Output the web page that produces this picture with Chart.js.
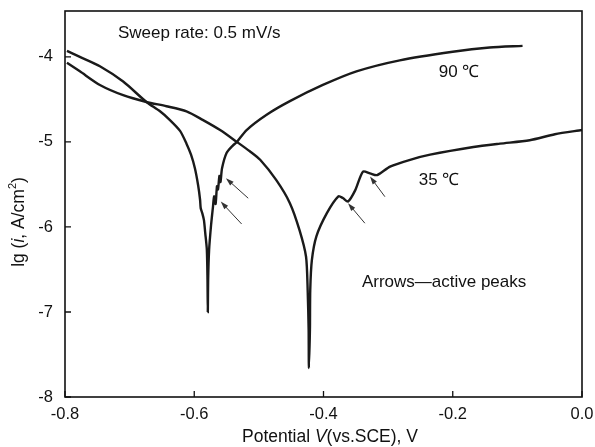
<!DOCTYPE html>
<html><head><meta charset="utf-8">
<script src="https://cdn.jsdelivr.net/npm/chart.js@4/dist/chart.umd.min.js"></script>
<style>html,body{margin:0;padding:0;background:#fff;}</style>
</head><body>
<canvas id="c" width="595" height="447" style="width:595px;height:447px;display:block"></canvas>
<script>
// ---- data ----
const potential90 = [-0.797,-0.777,-0.746,-0.710,-0.674,-0.653,-0.638,-0.622,-0.612,-0.605,-0.599,-0.594,-0.591,-0.590,-0.5875,-0.585,-0.583,-0.5805,-0.5795,-0.579,
  -0.5785,-0.577,-0.574,-0.571,-0.5693,-0.567,-0.5648,-0.5633,-0.561,-0.5594,-0.557,-0.550,-0.540,-0.534,-0.519,-0.488,-0.452,-0.401,-0.349,-0.282,-0.200,-0.143,-0.092];
const logI90 = [-3.93,-4.00,-4.11,-4.29,-4.53,-4.64,-4.74,-4.87,-5.02,-5.15,-5.31,-5.51,-5.68,-5.78,-5.84,-5.92,-6.07,-6.27,-6.62,-7.00,
  -6.62,-6.27,-5.98,-5.76,-5.64,-5.73,-5.52,-5.56,-5.40,-5.47,-5.31,-5.13,-5.04,-5.00,-4.86,-4.68,-4.52,-4.33,-4.17,-4.04,-3.94,-3.89,-3.87];
const potential35 = [-0.797,-0.777,-0.746,-0.710,-0.674,-0.643,-0.612,-0.587,-0.560,-0.534,-0.514,-0.498,-0.473,-0.452,-0.437,-0.427,-0.4245,-0.423,-0.4226,
  -0.421,-0.4205,-0.418,-0.411,-0.395,-0.377,-0.370,-0.362,-0.351,-0.339,-0.328,-0.317,-0.297,-0.266,-0.235,-0.168,-0.127,-0.081,-0.042,0.0];
const logI35 = [-4.07,-4.17,-4.33,-4.45,-4.53,-4.58,-4.64,-4.74,-4.86,-5.00,-5.11,-5.21,-5.45,-5.72,-6.04,-6.35,-6.74,-7.21,-7.66,
  -7.21,-6.74,-6.39,-6.11,-5.84,-5.64,-5.66,-5.70,-5.57,-5.35,-5.37,-5.39,-5.29,-5.21,-5.15,-5.06,-5.02,-4.98,-4.91,-4.86];
const xTickValues = [-0.8,-0.6,-0.4,-0.2,0.0];
const yTickValues = [-8,-7,-6,-5,-4];
// arrows (active peaks): tail -> head
const arrowTailV  = [-0.5165,-0.5267,-0.336,-0.305];
const arrowTailLg = [-5.662,-5.965,-5.956,-5.644];
const arrowHeadV  = [-0.551,-0.559,-0.362,-0.328];
const arrowHeadLg = [-5.427,-5.702,-5.721,-5.408];
const noteTexts = ['Sweep rate: 0.5 mV/s','90 \u2103','35 \u2103','Arrows\u2014active peaks'];
const noteV  = [-0.718,-0.2215,-0.2525,-0.3406];
const noteLg = [-3.72,-4.176,-5.447,-6.647];

const FONT = '"Liberation Sans", Arial, sans-serif';
const toPts = (xs, ys) => xs.map((x, i) => ({x, y: ys[i]}));

const decor = {
  id: 'decor',
  afterDraw(chart) {
    const {ctx, chartArea: a, scales: {x, y}} = chart;
    ctx.save();
    // frame
    ctx.strokeStyle = '#111'; ctx.lineWidth = 1.6;
    ctx.strokeRect(a.left, a.top, a.right - a.left, a.bottom - a.top);
    // inward ticks
    ctx.lineWidth = 1.3;
    ctx.beginPath();
    xTickValues.forEach(v => { const px = x.getPixelForValue(v); ctx.moveTo(px, a.bottom); ctx.lineTo(px, a.bottom - 6); });
    yTickValues.forEach(v => { const py = y.getPixelForValue(v); ctx.moveTo(a.left, py); ctx.lineTo(a.left + 6, py); });
    ctx.stroke();
    // arrows
    ctx.strokeStyle = '#333'; ctx.fillStyle = '#333'; ctx.lineWidth = 1;
    arrowTailV.forEach((tv, i) => {
      const x0 = x.getPixelForValue(tv), y0 = y.getPixelForValue(arrowTailLg[i]);
      const x1 = x.getPixelForValue(arrowHeadV[i]), y1 = y.getPixelForValue(arrowHeadLg[i]);
      const ang = Math.atan2(y1 - y0, x1 - x0);
      ctx.beginPath(); ctx.moveTo(x0, y0); ctx.lineTo(x1 - 5 * Math.cos(ang), y1 - 5 * Math.sin(ang)); ctx.stroke();
      ctx.beginPath();
      ctx.moveTo(x1, y1);
      ctx.lineTo(x1 - 8 * Math.cos(ang) + 2.6 * Math.sin(ang), y1 - 8 * Math.sin(ang) - 2.6 * Math.cos(ang));
      ctx.lineTo(x1 - 8 * Math.cos(ang) - 2.6 * Math.sin(ang), y1 - 8 * Math.sin(ang) + 2.6 * Math.cos(ang));
      ctx.closePath(); ctx.fill();
    });
    // notes
    ctx.fillStyle = '#111'; ctx.textBaseline = 'middle'; ctx.textAlign = 'left';
    ctx.font = '17px ' + FONT;
    noteTexts.forEach((t, i) => ctx.fillText(t, x.getPixelForValue(noteV[i]), y.getPixelForValue(noteLg[i])));
    // x title with italic V
    const FS = 17.5;
    const parts = [['Potential ', ''], ['V', 'italic '], ['(vs.SCE), V', '']];
    let tw = 0;
    parts.forEach(p => { ctx.font = p[1] + FS + 'px ' + FONT; tw += ctx.measureText(p[0]).width; });
    let cx = 330 - tw / 2;
    parts.forEach(p => { ctx.font = p[1] + FS + 'px ' + FONT; ctx.fillText(p[0], cx, 437); cx += ctx.measureText(p[0]).width; });
    // y title rotated with italic i and superscript 2
    ctx.translate(19, 222); ctx.rotate(-Math.PI / 2);
    const yparts = [['lg (', '', FS, 0], ['i', 'italic ', FS, 0], [', A/cm', '', FS, 0], ['2', '', 11, -6], [')', '', FS, 0]];
    let yw = 0;
    yparts.forEach(p => { ctx.font = p[1] + p[2] + 'px ' + FONT; yw += ctx.measureText(p[0]).width; });
    let cy = -yw / 2;
    yparts.forEach(p => { ctx.font = p[1] + p[2] + 'px ' + FONT; ctx.fillText(p[0], cy, p[3]); cy += ctx.measureText(p[0]).width; });
    ctx.restore();
  }
};

new Chart(document.getElementById('c'), {
  type: 'scatter',
  data: {
    datasets: [
      {label: '90 \u2103', data: toPts(potential90, logI90), showLine: true, borderColor: '#1a1a1a', borderWidth: 2.4, pointRadius: 0, tension: 0.25, fill: false},
      {label: '35 \u2103', data: toPts(potential35, logI35), showLine: true, borderColor: '#1a1a1a', borderWidth: 2.4, pointRadius: 0, tension: 0.25, fill: false}
    ]
  },
  options: {
    responsive: false, animation: false, devicePixelRatio: 1,
    layout: {padding: {left: 0, top: 11, right: 13, bottom: 0}},
    plugins: {legend: {display: false}, tooltip: {enabled: false}},
    scales: {
      x: {
        type: 'linear', min: -0.8, max: 0,
        afterBuildTicks: s => { s.ticks = xTickValues.map(v => ({value: v})); },
        afterFit: s => { s.height = 50; s.paddingLeft = 0; s.paddingRight = 0; },
        grid: {display: false, drawTicks: false}, border: {display: false},
        ticks: {color: '#111', font: {family: FONT, size: 16.5}, padding: 8, maxRotation: 0, autoSkip: false,
          callback: v => (Math.abs(v) < 1e-9 ? 0 : v).toFixed(1)}
      },
      y: {
        type: 'linear', min: -8, max: -3.46,
        afterBuildTicks: s => { s.ticks = yTickValues.map(v => ({value: v})); },
        afterFit: s => { s.width = 65; s.paddingTop = 0; s.paddingBottom = 0; },
        grid: {display: false, drawTicks: false}, border: {display: false},
        ticks: {color: '#111', font: {family: FONT, size: 16.5}, padding: 12, callback: v => String(v)}
      }
    }
  },
  plugins: [decor]
});
</script>
</body></html>
